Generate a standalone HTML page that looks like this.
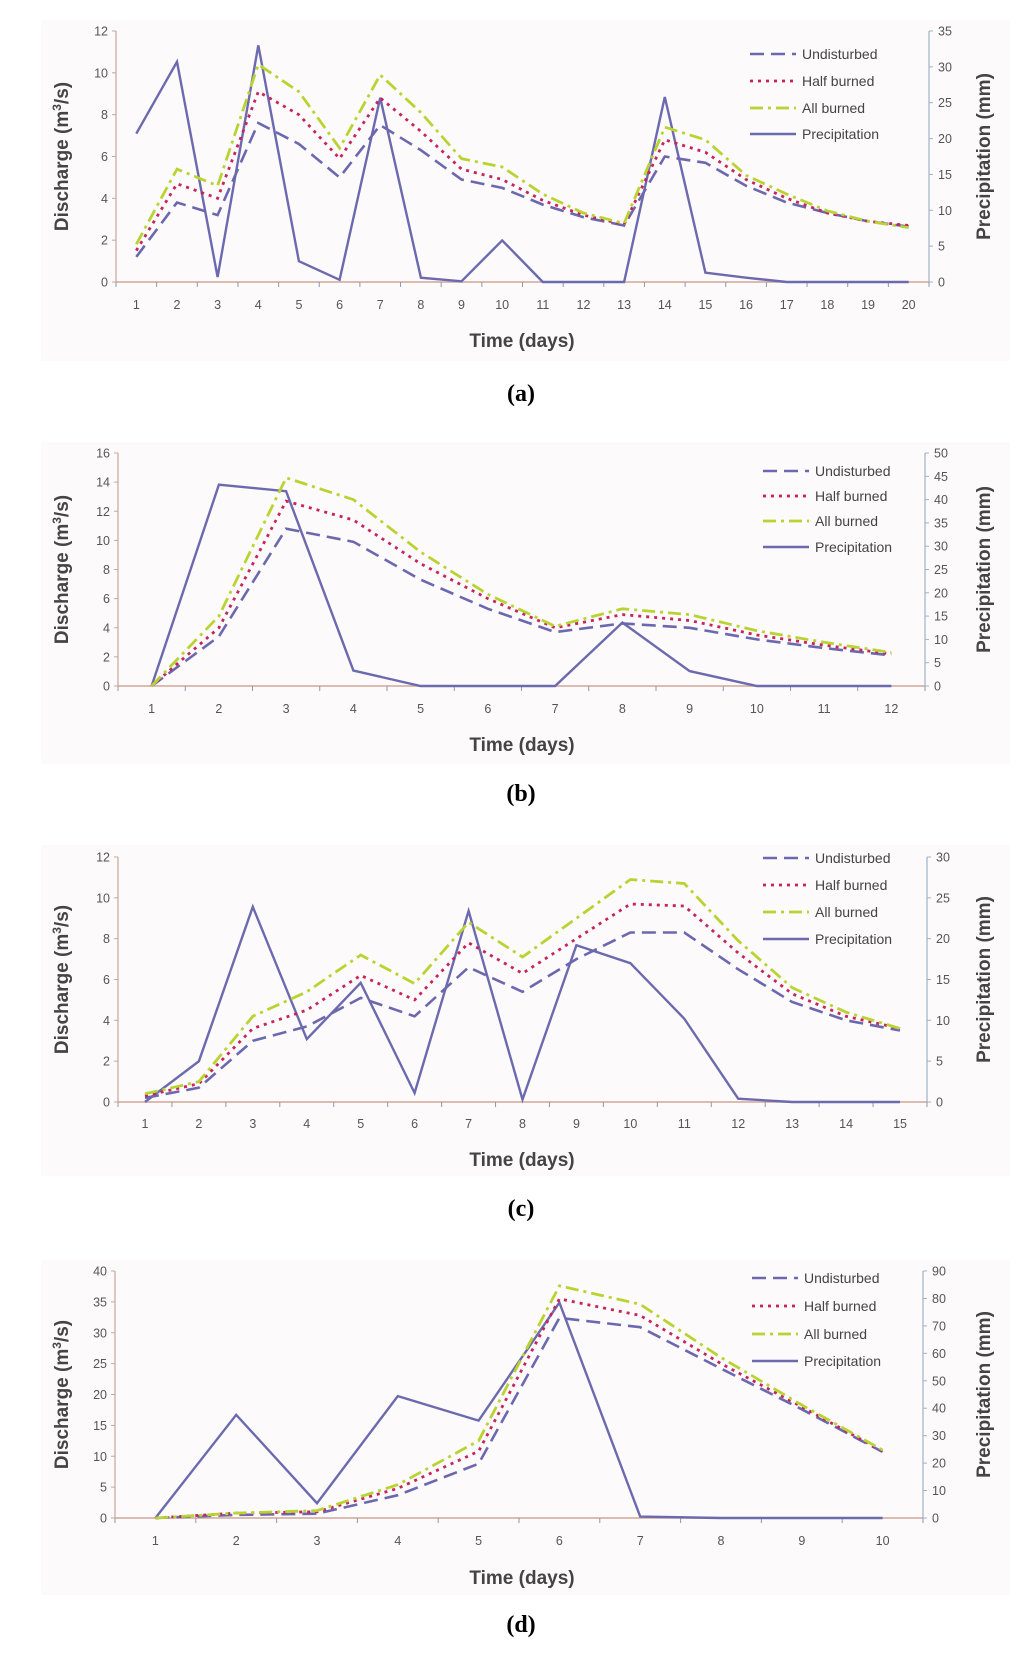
<!DOCTYPE html>
<html><head><meta charset="utf-8">
<style>
html,body{margin:0;padding:0;background:#fff;}
svg{display:block;font-family:"Liberation Sans",sans-serif;}
</style></head>
<body>
<svg id="fig" width="1024" height="1667" viewBox="0 0 1024 1667" xmlns="http://www.w3.org/2000/svg"></svg>
<script>
// Panel (a)
const aDays = [1,2,3,4,5,6,7,8,9,10,11,12,13,14,15,16,17,18,19,20];
const aUndisturbed = [1.2,3.8,3.2,7.6,6.6,5.0,7.5,6.3,4.9,4.5,3.7,3.1,2.7,6.0,5.7,4.6,3.8,3.3,2.9,2.65];
const aHalf = [1.5,4.7,4.0,9.1,8.0,5.9,8.8,7.2,5.4,4.9,3.9,3.2,2.75,6.8,6.2,4.9,4.0,3.3,2.9,2.7];
const aAll = [1.8,5.4,4.6,10.4,9.1,6.4,9.9,8.1,5.9,5.5,4.2,3.3,2.8,7.4,6.8,5.1,4.2,3.4,2.9,2.6];
const aPrecip = [20.7,30.7,0.7,33.0,2.9,0.3,25.7,0.6,0.1,5.8,0,0,0,25.8,1.3,0.6,0,0,0,0];
const aLeftTicks = [0,2,4,6,8,10,12];
const aRightTicks = [0,5,10,15,20,25,30,35];
// Panel (b)
const bDays = [1,2,3,4,5,6,7,8,9,10,11,12];
const bUndisturbed = [0,3.4,10.8,9.9,7.3,5.3,3.7,4.3,4.0,3.2,2.6,2.1];
const bHalf = [0,4.0,12.7,11.4,8.4,6.0,4.0,4.9,4.5,3.5,2.8,2.2];
const bAll = [0,4.8,14.3,12.8,9.2,6.3,4.1,5.3,4.9,3.8,3.0,2.3];
const bPrecip = [0,43.2,41.8,3.3,0,0,0,13.6,3.2,0,0,0];
const bLeftTicks = [0,2,4,6,8,10,12,14,16];
const bRightTicks = [0,5,10,15,20,25,30,35,40,45,50];
// Panel (c)
const cDays = [1,2,3,4,5,6,7,8,9,10,11,12,13,14,15];
const cUndisturbed = [0.2,0.7,3.0,3.7,5.1,4.2,6.6,5.4,7.0,8.3,8.3,6.5,4.9,4.0,3.5];
const cHalf = [0.3,0.9,3.6,4.5,6.2,5.0,7.8,6.3,8.0,9.7,9.6,7.3,5.3,4.2,3.6];
const cAll = [0.4,1.0,4.2,5.4,7.2,5.8,8.8,7.1,9.0,10.9,10.7,7.9,5.6,4.4,3.6];
const cPrecip = [0,5,23.9,7.7,14.6,1.1,23.4,0.3,19.2,17,10.2,0.4,0,0,0];
const cLeftTicks = [0,2,4,6,8,10,12];
const cRightTicks = [0,5,10,15,20,25,30];
// Panel (d)
const dDays = [1,2,3,4,5,6,7,8,9,10];
const dUndisturbed = [0,0.5,0.7,3.7,8.8,32.4,30.9,24.2,17.6,10.7];
const dHalf = [0,0.8,1.0,4.8,10.8,35.5,32.8,25.0,18.0,10.8];
const dAll = [0,0.8,1.2,5.4,12.5,37.6,34.6,26.0,18.3,11.0];
const dPrecip = [0,37.6,5.4,44.4,35.5,78.5,0.5,0,0,0];
const dLeftTicks = [0,5,10,15,20,25,30,35,40];
const dRightTicks = [0,10,20,30,40,50,60,70,80,90];

const NS = "http://www.w3.org/2000/svg";
const svg = document.getElementById('fig');
function mk(tag, attrs, parent, text){
  const e = document.createElementNS(NS, tag);
  for (const k in attrs) e.setAttribute(k, attrs[k]);
  if (text !== undefined) e.textContent = text;
  (parent || svg).appendChild(e);
  return e;
}
const styles = {
  und:{stroke:"#6b68b0", dash:"14 7", w:2.6},
  half:{stroke:"#c8235a", dash:"3 5", w:2.8},
  all:{stroke:"#b9d432", dash:"13 5 3 5", w:2.8},
  pre:{stroke:"#6c6aae", dash:"", w:2.4}
};

function panel(p){
  const g = mk('g', {});
  
  
  const bg = mk('rect', {x:41, y:p.boxTop, width:969, height:p.boxBot-p.boxTop, fill:"#fcfafa"}, g);
  
  
  const n = p.days.length;
  const L = p.left, R = p.right, T = p.top, B = p.bottom;
  const step = (R - L) / n;
  const xs = i => L + step * (i + 0.5);
  const lmax = p.lt[p.lt.length-1], rmax = p.rt[p.rt.length-1];
  const yl = v => B - (v / lmax) * (B - T);
  const yr = v => B - (v / rmax) * (B - T);
  const la = mk('line', {x1:L, y1:T, x2:L, y2:B, stroke:"#c9a69b", "stroke-width":1.2}, g);
  
  
  const ra = mk('line', {x1:R, y1:T, x2:R, y2:B, stroke:"#9fb2c8", "stroke-width":1.2}, g);
  
  
  const xa = mk('line', {x1:L, y1:B, x2:R, y2:B, stroke:"#d2a898", "stroke-width":1.4}, g);
  
  
  p.lt.forEach(v => {
    mk('line', {x1:L-4, y1:yl(v), x2:L, y2:yl(v), stroke:"#c9a69b"}, g);
    const t = mk('text', {x:L-8, y:yl(v)+4.5, "text-anchor":"end", "font-size":12.5, fill:"#555"}, g, v);
    
    
  });
  p.rt.forEach(v => {
    mk('line', {x1:R, y1:yr(v), x2:R+4, y2:yr(v), stroke:"#9fb2c8"}, g);
    const t = mk('text', {x:R+9, y:yr(v)+4.5, "text-anchor":"start", "font-size":12.5, fill:"#555"}, g, v);
    
    
  });
  for (let i = 0; i <= n; i++) mk('line', {x1:L+step*i, y1:B, x2:L+step*i, y2:B+5, stroke:"#8899bb"}, g);
  p.days.forEach((d,i) => {
    const t = mk('text', {x:xs(i), y:p.tickY, "text-anchor":"middle", "font-size":12.5, fill:"#555"}, g, d);
    
    
  });
  const series = [["pre", p.pre, yr], ["und", p.und, yl], ["half", p.half, yl], ["all", p.all, yl]];
  const names = {und:"undisturbed-line", half:"half-burned-line", all:"all-burned-line", pre:"precipitation-line"};
  series.forEach(([k, arr, yf]) => {
    const s = styles[k];
    const pts = arr.map((v,i) => xs(i).toFixed(1) + "," + yf(v).toFixed(1)).join(" ");
    const pl = mk('polyline', {points:pts, fill:"none", stroke:s.stroke, "stroke-width":s.w, "stroke-dasharray":s.dash, "stroke-linejoin":"miter"}, g);
    
    
  });
  const cy = (T + B) / 2;
  const yt = mk('text', {x:0, y:0, transform:`translate(${p.ltx},${cy}) rotate(-90)`, "text-anchor":"middle", "font-size":19, "font-weight":"bold", fill:"#444"}, g);
  
  
  mk('tspan', {}, yt, "Discharge (m");
  mk('tspan', {dy:-7, "font-size":12}, yt, "3");
  mk('tspan', {dy:7}, yt, "/s)");
  const y2 = mk('text', {x:0, y:0, transform:`translate(${p.rtx},${cy}) rotate(-90)`, "text-anchor":"middle", "font-size":19, "font-weight":"bold", fill:"#444"}, g, "Precipitation (mm)");
  
  
  const xt = mk('text', {x:522, y:p.timeY, "text-anchor":"middle", "font-size":19, "font-weight":"bold", fill:"#444"}, g, "Time (days)");
  
  
  const labels = [["und","Undisturbed"],["half","Half burned"],["all","All burned"],["pre","Precipitation"]];
  labels.forEach(([k,lab],i) => {
    const s = styles[k];
    const ly = p.legY[i];
    const le = mk('g', {}, g);
    
    
    mk('line', {x1:p.legX, y1:ly, x2:p.legX+46, y2:ly, stroke:s.stroke, "stroke-width":s.w, "stroke-dasharray":s.dash}, le);
    mk('text', {x:p.legX+52, y:ly+5, "font-size":14, fill:"#444"}, le, lab);
  });
  const cap = mk('text', {x:521, y:p.capY, "text-anchor":"middle", "font-family":"Liberation Serif, serif", "font-size":24, "font-weight":"bold", fill:"#000"}, g, "(" + p.id + ")");
  
  
}

panel({id:"a", boxTop:20, boxBot:361, left:116, right:929, top:31, bottom:282,
  days:aDays, und:aUndisturbed, half:aHalf, all:aAll, pre:aPrecip, lt:aLeftTicks, rt:aRightTicks,
  tickY:309, timeY:347, capY:401, ltx:68, rtx:990, legX:750, legY:[54,81,108,134]});
panel({id:"b", boxTop:442, boxBot:764, left:118, right:925, top:453, bottom:686,
  days:bDays, und:bUndisturbed, half:bHalf, all:bAll, pre:bPrecip, lt:bLeftTicks, rt:bRightTicks,
  tickY:713, timeY:751, capY:801, ltx:68, rtx:990, legX:763, legY:[471,496,521,547]});
panel({id:"c", boxTop:845, boxBot:1176, left:118, right:927, top:857, bottom:1102,
  days:cDays, und:cUndisturbed, half:cHalf, all:cAll, pre:cPrecip, lt:cLeftTicks, rt:cRightTicks,
  tickY:1128, timeY:1166, capY:1216, ltx:68, rtx:990, legX:763, legY:[858,885,912,939]});
panel({id:"d", boxTop:1260, boxBot:1595, left:115, right:923, top:1271, bottom:1518,
  days:dDays, und:dUndisturbed, half:dHalf, all:dAll, pre:dPrecip, lt:dLeftTicks, rt:dRightTicks,
  tickY:1545, timeY:1584, capY:1632, ltx:68, rtx:990, legX:752, legY:[1278,1306,1334,1361]});
</script>
</body></html>
